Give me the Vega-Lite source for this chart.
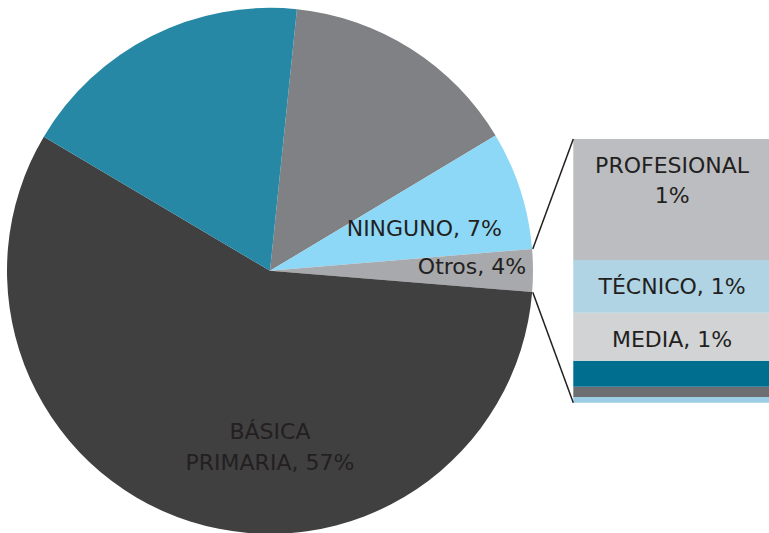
{
  "$schema": "https://vega.github.io/schema/vega-lite/v6.json",
  "width": 769,
  "height": 533,
  "autosize": {"type": "none"},
  "padding": 0,
  "background": "white",
  "config": {"view": {"stroke": null}, "text": {"font": "DejaVu Sans", "fontSize": 22, "color": "#231F20"}},
  "datasets": {
    "pie": [
      {"categoria": "BÁSICA SECUNDARIA", "valor": 14.77, "orden": 1, "etiqueta": ""},
      {"categoria": "NINGUNO", "valor": 7.27, "orden": 2, "etiqueta": "NINGUNO, 7%"},
      {"categoria": "Otros", "valor": 2.61, "orden": 3, "etiqueta": "Otros, 4%"},
      {"categoria": "BÁSICA PRIMARIA", "valor": 57.24, "orden": 4, "etiqueta": "BÁSICA\nPRIMARIA, 57%"},
      {"categoria": "SIN INFORMACIÓN", "valor": 18.11, "orden": 5, "etiqueta": ""}
    ],
    "otros": [
      {"categoria": "POSGRADO", "valor": 0.086, "orden": 1, "etiqueta": ""},
      {"categoria": "NORMALISTA", "valor": 0.156, "orden": 2, "etiqueta": ""},
      {"categoria": "TECNOLÓGICO", "valor": 0.394, "orden": 3, "etiqueta": ""},
      {"categoria": "MEDIA", "valor": 0.728, "orden": 4, "etiqueta": "MEDIA, 1%"},
      {"categoria": "TÉCNICO", "valor": 0.8, "orden": 5, "etiqueta": "TÉCNICO, 1%"},
      {"categoria": "PROFESIONAL", "valor": 1.835, "orden": 6, "etiqueta": "PROFESIONAL\n1%"}
    ]
  },
  "layer": [
    {
      "data": {"name": "pie"},
      "mark": {"type": "arc", "radius": 263},
      "encoding": {
        "theta": {"field": "valor", "type": "quantitative", "stack": true, "scale": {"range": [0.1026, 6.3858]}},
        "order": {"field": "orden", "type": "quantitative"},
        "color": {"field": "categoria", "type": "nominal", "legend": null,
          "scale": {"domain": ["BÁSICA SECUNDARIA", "NINGUNO", "Otros", "BÁSICA PRIMARIA", "SIN INFORMACIÓN", "POSGRADO", "NORMALISTA", "TECNOLÓGICO", "MEDIA", "TÉCNICO", "PROFESIONAL"],
                    "range": ["#808184", "#8ED8F7", "#A7A9AC", "#404040", "#2788A6", "#9BCDE4", "#6D6E71", "#006F8F", "#D1D3D4", "#B0D4E4", "#BCBDC0"]}},
        "x": {"datum": 35.11, "type": "quantitative", "scale": {"domain": [0, 100], "nice": false, "zero": false}, "axis": null},
        "y": {"datum": 2.0, "type": "quantitative", "scale": {"domain": [-1.9765, 6.1085], "nice": false, "zero": false}, "axis": null}
      }
    },
    {
      "data": {"name": "pie"},
      "mark": {"type": "text", "radius": 160, "dy": 7, "dx": 2, "baseline": "middle", "align": "center"},
      "encoding": {
        "theta": {"field": "valor", "type": "quantitative", "stack": true},
        "order": {"field": "orden", "type": "quantitative"},
        "text": {"condition": {"test": "datum.orden == 2", "field": "etiqueta"}, "value": ""},
        "x": {"datum": 35.11, "type": "quantitative"},
        "y": {"datum": 2.0, "type": "quantitative"}
      }
    },
    {
      "data": {"name": "pie"},
      "mark": {"type": "text", "radius": 202, "dy": -4, "baseline": "middle", "align": "center"},
      "encoding": {
        "theta": {"field": "valor", "type": "quantitative", "stack": true},
        "order": {"field": "orden", "type": "quantitative"},
        "text": {"condition": {"test": "datum.orden == 3", "field": "etiqueta"}, "value": ""},
        "x": {"datum": 35.11, "type": "quantitative"},
        "y": {"datum": 2.0, "type": "quantitative"}
      }
    },
    {
      "data": {"name": "pie"},
      "mark": {"type": "text", "radius": 175, "dx": 53, "dy": -6, "baseline": "middle", "align": "center", "lineBreak": "\n", "lineHeight": 31},
      "encoding": {
        "theta": {"field": "valor", "type": "quantitative", "stack": true},
        "order": {"field": "orden", "type": "quantitative"},
        "text": {"condition": {"test": "datum.orden == 4", "field": "etiqueta"}, "value": ""},
        "x": {"datum": 35.11, "type": "quantitative"},
        "y": {"datum": 2.0, "type": "quantitative"}
      }
    },
    {
      "data": {"name": "otros"},
      "transform": [{"stack": "valor", "groupby": [], "sort": [{"field": "orden", "order": "ascending"}], "as": ["y0", "y1"]}],
      "mark": {"type": "rect"},
      "encoding": {
        "x": {"datum": 74.55, "type": "quantitative"},
        "x2": {"datum": 100},
        "y": {"field": "y0", "type": "quantitative"},
        "y2": {"field": "y1"},
        "color": {"field": "categoria", "type": "nominal", "legend": null,
          "scale": {"domain": ["BÁSICA SECUNDARIA", "NINGUNO", "Otros", "BÁSICA PRIMARIA", "SIN INFORMACIÓN", "POSGRADO", "NORMALISTA", "TECNOLÓGICO", "MEDIA", "TÉCNICO", "PROFESIONAL"],
                    "range": ["#808184", "#8ED8F7", "#A7A9AC", "#404040", "#2788A6", "#9BCDE4", "#6D6E71", "#006F8F", "#D1D3D4", "#B0D4E4", "#BCBDC0"]}}
      }
    },
    {
      "data": {"name": "otros"},
      "transform": [{"stack": "valor", "groupby": [], "sort": [{"field": "orden", "order": "ascending"}], "as": ["y0", "y1"]}],
      "mark": {"type": "text", "baseline": "alphabetic", "align": "center", "dy": 34, "dx": 1, "lineBreak": "\n", "lineHeight": 30},
      "encoding": {
        "x": {"datum": 87.27, "type": "quantitative"},
        "y": {"field": "y1", "type": "quantitative"},
        "text": {"field": "etiqueta"}
      }
    },
    {
      "data": {"values": [{}]},
      "mark": {"type": "rule", "color": "#231F20", "strokeWidth": 1.5},
      "encoding": {
        "x": {"datum": 69.28, "type": "quantitative"},
        "y": {"datum": 2.331, "type": "quantitative"},
        "x2": {"datum": 74.55},
        "y2": {"datum": 4}
      }
    },
    {
      "data": {"values": [{}]},
      "mark": {"type": "rule", "color": "#231F20", "strokeWidth": 1.5},
      "encoding": {
        "x": {"datum": 69.28, "type": "quantitative"},
        "y": {"datum": 1.675, "type": "quantitative"},
        "x2": {"datum": 74.55},
        "y2": {"datum": 0}
      }
    }
  ]
}
